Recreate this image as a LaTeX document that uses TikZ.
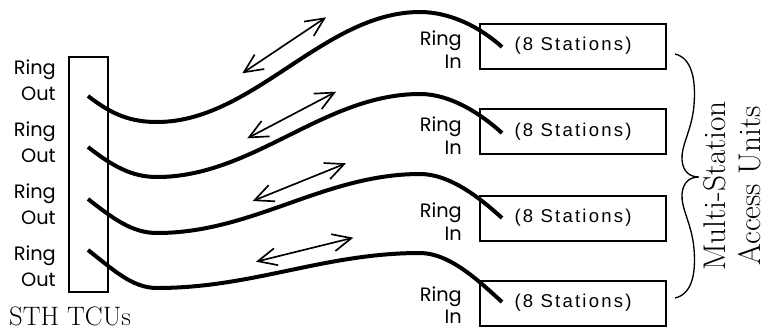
\documentclass[tikz,border=0pt]{standalone}
\usepackage{fontspec}
\usepackage{tikz}
\usetikzlibrary{arrows.meta}
\newfontfamily\ringfont[Scale=1.45]{Poppins}
\newfontfamily\stationfont[LetterSpace=12]{Liberation Sans}
\newfontfamily\maufont[Scale=2.35]{Latin Modern Roman}

\tikzset{
  ringlabel/.style={anchor=base east, inner sep=0pt, font=\ringfont},
  tcubox/.style={draw, line width=1.5pt, minimum width=29.25pt, minimum height=176.25pt, inner sep=0pt},
  maubox/.style={draw, line width=1.5pt, minimum width=139.5pt, minimum height=33.75pt, inner sep=0pt, font=\stationfont\fontsize{13.9}{16}\selectfont},
  caption/.style={anchor=base, inner sep=0pt},
  ringline/.style={line width=3pt},
  duplex/.style={{Straight Barb[length=14pt,width=13pt]}-{Straight Barb[length=14pt,width=13pt]}, line width=1.25pt},
}

\begin{document}
\begin{tikzpicture}[x=0.75pt,y=0.75pt,yscale=-1,xscale=1]
\useasboundingbox (0,0) rectangle (770,329);

%Boxes
\node[tcubox] (tcu) at (88.5,174.5) {};
\node[maubox] (mau1) at (573,46) {(8 Stations)};
\node[maubox] (mau2) at (573,131.5) {(8 Stations)};
\node[maubox] (mau3) at (573,218) {(8 Stations)};
\node[maubox] (mau4) at (573,303) {(8 Stations)};

%Ring Out labels
\node[ringlabel] (ring1out) at (56,74) {Ring};
\node[ringlabel] (out1lbl) at (56,100) {Out};
\node[ringlabel] (ring2out) at (56,136.5) {Ring};
\node[ringlabel] (out2lbl) at (56,162.5) {Out};
\node[ringlabel] (ring3out) at (56,198.5) {Ring};
\node[ringlabel] (out3lbl) at (56,224.5) {Out};
\node[ringlabel] (ring4out) at (56,260.5) {Ring};
\node[ringlabel] (out4lbl) at (56,286.5) {Out};

%Ring In labels
\node[ringlabel] (ring1in) at (462,45) {Ring};
\node[ringlabel] (in1lbl) at (462,68) {In};
\node[ringlabel] (ring2in) at (462,131.5) {Ring};
\node[ringlabel] (in2lbl) at (462,154.5) {In};
\node[ringlabel] (ring3in) at (462,217.5) {Ring};
\node[ringlabel] (in3lbl) at (462,240.5) {In};
\node[ringlabel] (ring4in) at (462,301.5) {Ring};
\node[ringlabel] (in4lbl) at (462,323.5) {In};

%Cable ends
\coordinate (out1) at (88,96);
\coordinate (out2) at (88,147);
\coordinate (out3) at (88,199);
\coordinate (out4) at (88,250);
\coordinate (in1) at (502,47);
\coordinate (in2) at (502,133);
\coordinate (in3) at (502,218);
\coordinate (in4) at (502,302);

%Ring cables
\draw[ringline] (out1) .. controls (113,115.5) and (132,122) .. (157,122) .. controls (253,122) and (324,12) .. (420,12) .. controls (450,12) and (480,27) .. (in1);
\draw[ringline] (out2) .. controls (113,166.5) and (132,177) .. (157,177) .. controls (253,177) and (324,94) .. (420,94) .. controls (450,94) and (480,113) .. (in2);
\draw[ringline] (out3) .. controls (113,218.5) and (132,233) .. (157,233) .. controls (253,233) and (324,174) .. (420,174) .. controls (450,174) and (480,198) .. (in3);
\draw[ringline] (out4) .. controls (113,269.5) and (132,288) .. (157,288) .. controls (253,288) and (324,253) .. (420,253) .. controls (450,253) and (480,282) .. (in4);

%Data flow arrows
\coordinate (a1s) at (242.3,73.3);
\coordinate (a1e) at (326,17.3);
\coordinate (a2s) at (247.3,138.3);
\coordinate (a2e) at (336,91.7);
\coordinate (a3s) at (252.7,201);
\coordinate (a3e) at (346,163.3);
\coordinate (a4s) at (256,261.7);
\coordinate (a4e) at (353.3,237.7);
\draw[duplex] (a1s) -- (a1e);
\draw[duplex] (a2s) -- (a2e);
\draw[duplex] (a3s) -- (a3e);
\draw[duplex] (a4s) -- (a4e);

%Brace
\draw[line width=1pt] (675,54) .. controls (692,58) and (696,80) .. (694,105) .. controls (692,130) and (681,145) .. (682,160) .. controls (683,172) and (690,177) .. (699,177) .. controls (690,177) and (683,182) .. (682,194) .. controls (681,209) and (692,224) .. (694,249) .. controls (696,274) and (692,294) .. (675,298);

%Captions
\node[caption, font=\fontsize{20}{24}\selectfont] (tcucap) at (70,325) {STH TCUs};
\node[caption, rotate=90, font=\maufont] (maucap1) at (725,186) {Multi-Station};
\node[caption, rotate=90, font=\maufont] (maucap2) at (760,186) {Access Units};

\end{tikzpicture}
\end{document}
